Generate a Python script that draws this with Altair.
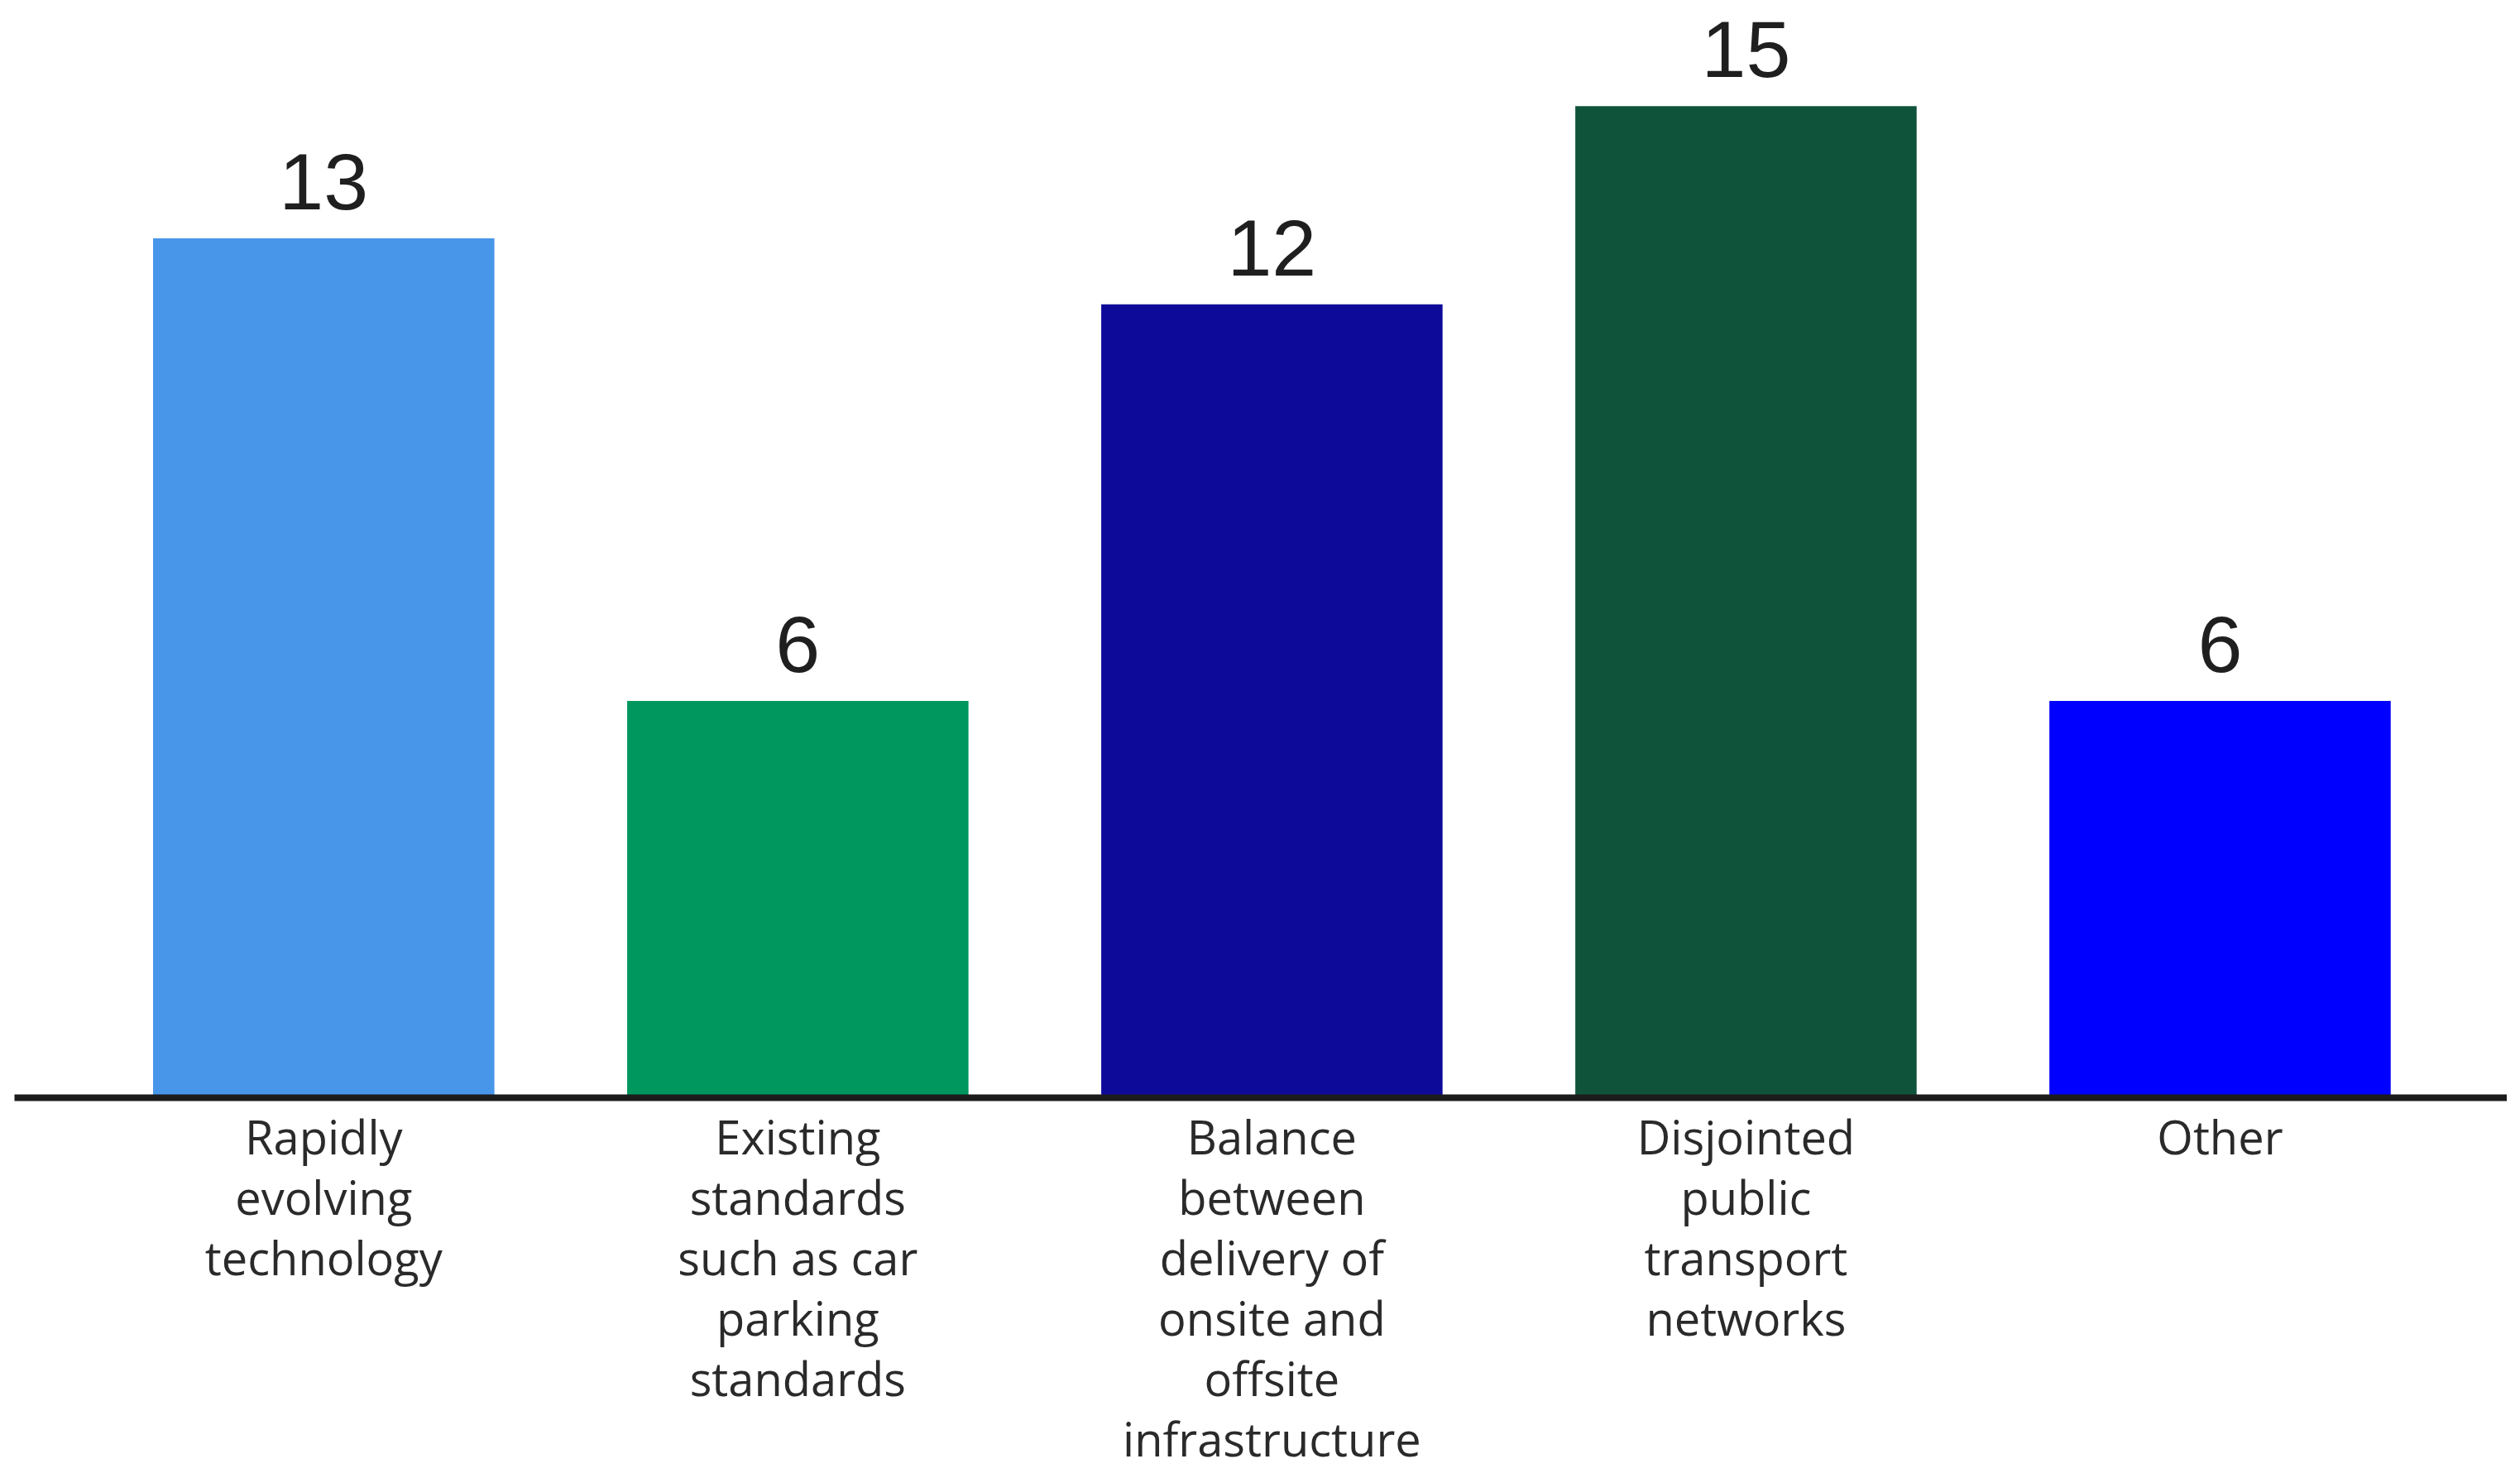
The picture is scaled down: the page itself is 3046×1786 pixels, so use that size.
import altair as alt
import pandas as pd

categories = [
    "Rapidly|evolving|technology",
    "Existing|standards|such as car|parking|standards",
    "Balance|between|delivery of|onsite and|offsite|infrastructure",
    "Disjointed|public|transport|networks",
    "Other",
]
values = [13, 6, 12, 15, 6]
colors = ["#4896EA", "#00975E", "#0E0A99", "#10533B", "#0000FF"]

df = pd.DataFrame({"category": categories, "value": values, "color": colors})

x = alt.X(
    "category:N",
    sort=categories,
    title=None,
    scale=alt.Scale(paddingInner=0.28, paddingOuter=0.269, align=0.545),
    axis=alt.Axis(
        labelAngle=0,
        labelExpr="split(datum.value, '|')",
        labelFont="Open Sans",
        labelFontSize=56,
        labelColor="#2a2a2a",
        labelLineHeight=73,
        labelBaseline="top",
        labelPadding=24,
        labelLimit=0,
        ticks=False,
        domain=True,
        domainColor="#1c1c1c",
        domainWidth=8,
        zindex=1,
        grid=False,
    ),
)
y = alt.Y(
    "value:Q",
    scale=alt.Scale(domain=[0, 16.43], nice=False, zero=True),
    axis=None,
)

bars = alt.Chart(df).mark_bar().encode(
    x=x, y=y, color=alt.Color("color:N", scale=None, legend=None)
)

labels = alt.Chart(df).mark_text(
    font="Liberation Sans", fontSize=97, baseline="alphabetic", dy=-35, color="#1f1f1f"
).encode(x=alt.X("category:N", sort=categories), y=y, text="value:Q")

chart = (
    alt.layer(bars, labels)
    .properties(
        width=3013,
        height=1312,
        padding={"left": 9, "top": 6, "right": 0, "bottom": 450},
        autosize=alt.AutoSizeParams(type="none"),
        background="white",
    )
    .configure_view(stroke=None)
)

chart.save("out.html", embed_options={"renderer": "svg", "actions": False})
